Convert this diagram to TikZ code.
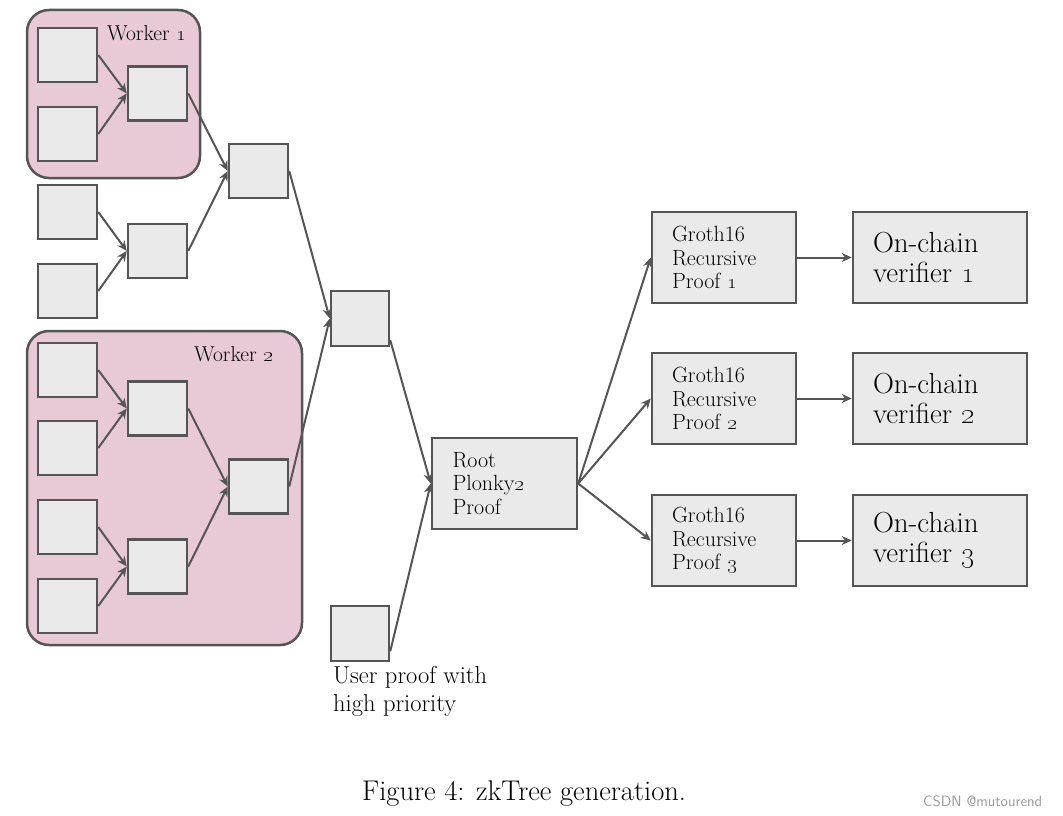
\documentclass[tikz,border=0pt]{standalone}
\usetikzlibrary{arrows.meta,calc}
\definecolor{edgegray}{HTML}{555555}
\definecolor{boxfill}{HTML}{EAEAEA}
\definecolor{workerpink}{HTML}{E7CAD5}
\newcommand{\osn}[1]{\oldstylenums{#1}}
\tikzset{
  leaf/.style={draw=edgegray, fill=boxfill, line width=2.5pt, minimum width=59pt, minimum height=54pt, inner sep=0pt},
  bigbox/.style={draw=edgegray, fill=boxfill, line width=2.5pt, minimum width=144pt, minimum height=91pt, inner xsep=20pt, inner ysep=0pt, align=left},
  workerbox/.style={draw=edgegray, fill=workerpink, line width=2.5pt, rounded corners=22pt, inner sep=0pt},
  conn/.style={draw=edgegray, line width=2pt, -{Stealth[length=10pt,width=9pt]}},
  midfont/.style={font=\fontsize{22}{23.5}\selectfont},
  bigfont/.style={font=\fontsize{29}{30}\selectfont},
}
\begin{document}
\begin{tikzpicture}[x=1pt,y=-1pt]
\useasboundingbox (0,0) rectangle (1063,816);
% workers
\node[workerbox, minimum width=173pt, minimum height=168pt] (W1) at (113.5,94) {};
\node[workerbox, minimum width=275pt, minimum height=314pt] (W2) at (164.5,488) {};
\node[font=\fontsize{21.5}{24}\selectfont, anchor=west, inner sep=0pt] (W1lab) at (107,33) {Worker \osn{1}};
\node[font=\fontsize{21.5}{24}\selectfont, anchor=west, inner sep=0pt] (W2lab) at (194,354) {Worker \osn{2}};
% leaves
\node[leaf] (A1) at (67.5,55) {};
\node[leaf] (A2) at (67.5,134) {};
\node[leaf] (A3) at (67.5,212) {};
\node[leaf] (A4) at (67.5,291) {};
\node[leaf] (A5) at (67.5,370) {};
\node[leaf] (A6) at (67.5,448) {};
\node[leaf] (A7) at (67.5,527) {};
\node[leaf] (A8) at (67.5,606) {};
\node[leaf] (B1) at (157.5,93.5) {};
\node[leaf] (B2) at (157.5,251) {};
\node[leaf] (B3) at (157.5,408.5) {};
\node[leaf] (B4) at (157.5,566.5) {};
\node[leaf] (C1) at (258.5,171) {};
\node[leaf] (C2) at (258.5,486.5) {};
\node[leaf, minimum width=58pt, minimum height=55pt] (D1) at (360,318.5) {};
\node[leaf, minimum width=58pt, minimum height=55pt] (U) at (360,633.5) {};
\node[font=\fontsize{24.5}{28}\selectfont, align=left, anchor=north west, inner sep=0pt] (Ulab) at (333,666) {User proof with\\high priority};
% big boxes
\node[bigbox, midfont, minimum width=145pt, text width=104pt] (R) at (504.5,483.5) {Root\\Plonky\osn{2}\\Proof};
\node[bigbox, midfont, text width=104pt] (G1) at (724,257.5) {Groth16\\Recursive\\Proof \osn{1}};
\node[bigbox, midfont, text width=104pt] (G2) at (724,398.5) {Groth16\\Recursive\\Proof \osn{2}};
\node[bigbox, midfont, text width=104pt] (G3) at (724,540.5) {Groth16\\Recursive\\Proof \osn{3}};
\node[bigbox, bigfont, minimum width=174pt, text width=134pt] (V1) at (940,257.5) {On-chain\\verifier \osn{1}};
\node[bigbox, bigfont, minimum width=174pt, text width=134pt] (V2) at (940,398.5) {On-chain\\verifier \osn{2}};
\node[bigbox, bigfont, minimum width=174pt, text width=134pt] (V3) at (940,540.5) {On-chain\\verifier \osn{3}};
% connectors
\draw[conn] (A1.east) -- (B1.west);
\draw[conn] (A2.east) -- (B1.west);
\draw[conn] (A3.east) -- (B2.west);
\draw[conn] (A4.east) -- (B2.west);
\draw[conn] (A5.east) -- (B3.west);
\draw[conn] (A6.east) -- (B3.west);
\draw[conn] (A7.east) -- (B4.west);
\draw[conn] (A8.east) -- (B4.west);
\draw[conn] (B1.east) -- (C1.west);
\draw[conn] (B2.east) -- (C1.west);
\draw[conn] (B3.east) -- (C2.west);
\draw[conn] (B4.east) -- (C2.west);
\draw[conn] (C1.east) -- (D1.west);
\draw[conn] (C2.east) -- (D1.west);
\draw[conn] ($(D1.south east)+(0,-7)$) -- (R.west);
\draw[conn] ($(U.south east)+(0,-11)$) -- (R.west);
\draw[conn] (R.east) -- (G1.west);
\draw[conn] (R.east) -- (G2.west);
\draw[conn] (R.east) -- (G3.west);
\draw[conn] (G1.east) -- (V1.west);
\draw[conn] (G2.east) -- (V2.west);
\draw[conn] (G3.east) -- (V3.west);
% caption
\node[font=\fontsize{28.5}{32}\selectfont, anchor=west, inner sep=0pt] (cap) at (362,794) {Figure 4: zkTree generation.};
\node[font=\sffamily\fontsize{15}{17}\selectfont, text=gray!80, anchor=west, inner sep=0pt] (wm) at (923,801) {CSDN @mutourend};
\end{tikzpicture}
\end{document}
